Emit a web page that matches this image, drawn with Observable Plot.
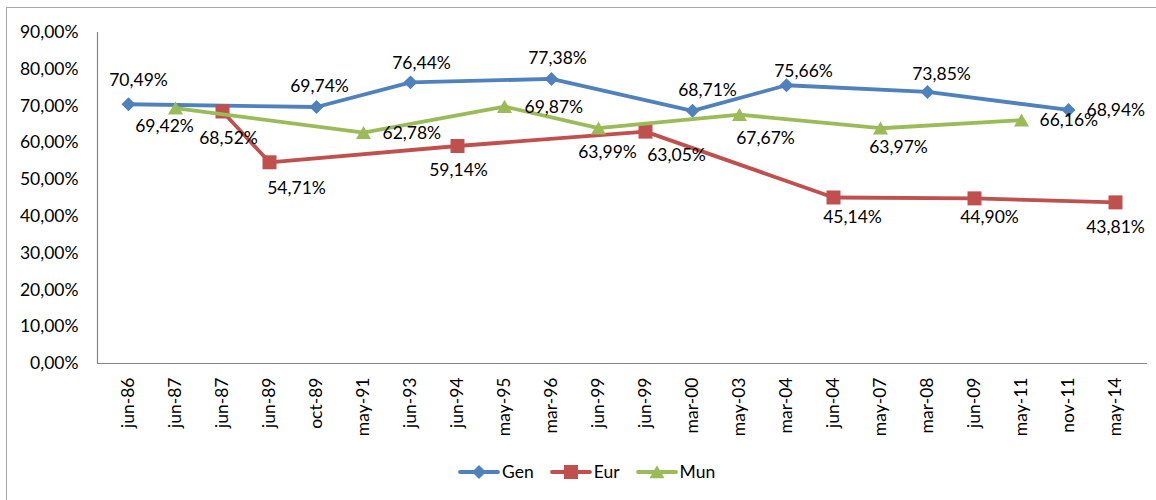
<!DOCTYPE html>
<html><head><meta charset="utf-8">
<script src="https://cdn.jsdelivr.net/npm/d3@7"></script>
<script src="https://cdn.jsdelivr.net/npm/@observablehq/plot@0.6"></script>
<style>
html,body{margin:0;padding:0;background:#fff;overflow:hidden;}
body{width:1156px;height:500px;position:relative;font-family:Lato,sans-serif;}
#border{position:absolute;left:6px;top:7px;width:1200px;height:600px;border:1.5px solid #a8a8a8;box-sizing:border-box}
#chart{position:absolute;left:0;top:0}
#legend{position:absolute;left:458px;top:462px;height:20px;display:flex;align-items:center;font-size:17.5px;color:#000;line-height:20px}
#legend .item{display:flex;align-items:center;margin-right:16px}
#legend svg{display:block;margin-right:2px}
</style></head><body>
<div id="border"></div>
<div id="chart"></div>
<div id="legend"></div>
<script>
// Categories (election dates)
const dates = ["jun-86","jun-87","jun-87","jun-89","oct-89","may-91","jun-93","jun-94","may-95","mar-96","jun-99","jun-99","mar-00","may-03","mar-04","jun-04","may-07","mar-08","jun-09","may-11","nov-11","may-14"];
// Turnout (%) per category; null = no election of that type
const gen = [70.49,null,null,null,69.74,null,76.44,null,null,77.38,null,null,68.71,null,75.66,null,null,73.85,null,null,68.94,null];
const eur = [null,null,68.52,54.71,null,null,null,59.14,null,null,null,63.05,null,null,null,45.14,null,null,44.90,null,null,43.81];
const mun = [null,69.42,null,null,null,62.78,null,null,69.87,null,63.99,null,null,67.67,null,null,63.97,null,null,66.16,null,null];
const seriesNames = ["Gen","Eur","Mun"];
const yTicks = [0,10,20,30,40,50,60,70,80,90];

// ---- styling (kept apart from the data) ----
const colors = {Gen:"#4F81BD", Eur:"#C0504D", Mun:"#9BBB59"};
const symbols = {Gen:"diamond2", Eur:"square", Mun:"triangle"};
const radii = {Gen:6.3, Eur:7.9, Mun:5.6};
const symDy = {Gen:0, Eur:0, Mun:2};
// data label placement per point: [dx, dy, anchor]
const labelPlace = {
  Gen: [[10,-24,"middle"],[3,-21,"middle"],[11,-19,"middle"],[6,-21,"middle"],[15,-20,"middle"],[17,-14,"middle"],[14,-18,"middle"],[18,0,"start"]],
  Eur: [[6,27,"middle"],[27,26,"middle"],[1,24,"middle"],[31,24,"middle"],[19,20,"middle"],[15,19,"middle"],[0,25,"middle"]],
  Mun: [[-11,18,"middle"],[19,1,"start"],[20,1,"start"],[9,24,"middle"],[26,24,"middle"],[18,19,"middle"],[18,0,"start"]]
};

const valuesBy = {Gen: gen, Eur: eur, Mun: mun};
const rows = [];
for (const s of seriesNames) {
  valuesBy[s].forEach((v, i) => { if (v != null) rows.push({series: s, i, value: v}); });
}
const fmt = v => v.toFixed(2).replace(".", ",") + "%";

const marks = [
  Plot.frame({anchor: "left", stroke: "#868686", strokeWidth: 1.2}),
  Plot.frame({anchor: "bottom", stroke: "#868686", strokeWidth: 1.2}),
  Plot.axisY({ticks: yTicks, tickSize: 0, tickPadding: 19, tickFormat: d => fmt(d), fill: "#000", label: null}),
  Plot.axisX({tickRotate: -90, tickSize: 0, tickPadding: 14, tickFormat: i => dates[i], fill: "#000", label: null})
];
for (const s of seriesNames) {
  const d = rows.filter(r => r.series === s);
  marks.push(Plot.line(d, {x: "i", y: "value", stroke: colors[s], strokeWidth: 3.8, strokeLinejoin: "round", strokeLinecap: "round"}));
  marks.push(Plot.dot(d, {x: "i", y: "value", symbol: symbols[s], r: radii[s], fill: colors[s], stroke: "none", dy: symDy[s]}));
}
for (const s of seriesNames) {
  const d = rows.filter(r => r.series === s);
  d.forEach((row, k) => {
    const [dx, dy, anchor] = labelPlace[s][k];
    marks.push(Plot.text([row], {x: "i", y: "value", text: r => fmt(r.value), dx, dy, textAnchor: anchor, fill: "#000"}));
  });
}

const plot = Plot.plot({
  width: 1156,
  height: 455,
  marginLeft: 97,
  marginRight: 10,
  marginTop: 32,
  marginBottom: 92,
  style: {fontFamily: "Lato, sans-serif", fontSize: "17.5px", background: "transparent", color: "#000"},
  x: {type: "point", domain: d3.range(dates.length), padding: 0.5, label: null},
  y: {domain: [0, 90], label: null},
  marks
});
document.getElementById("chart").appendChild(plot);

// legend
const legend = document.getElementById("legend");
const symMap = {diamond2: d3.symbolDiamond2, square: d3.symbolSquare, triangle: d3.symbolTriangle};
for (const s of seriesNames) {
  const item = document.createElement("div");
  item.className = "item";
  const svg = d3.create("svg").attr("width", 42).attr("height", 18);
  svg.append("line").attr("x1", 2).attr("x2", 40).attr("y1", 9).attr("y2", 9)
    .attr("stroke", colors[s]).attr("stroke-width", 3.8).attr("stroke-linecap", "round");
  svg.append("path").attr("transform", `translate(21,${9 + symDy[s]})`)
    .attr("d", d3.symbol(symMap[symbols[s]], Math.PI * radii[s] * radii[s])())
    .attr("fill", colors[s]);
  item.appendChild(svg.node());
  const t = document.createElement("span");
  t.textContent = s;
  item.appendChild(t);
  legend.appendChild(item);
}
</script>
</body></html>
